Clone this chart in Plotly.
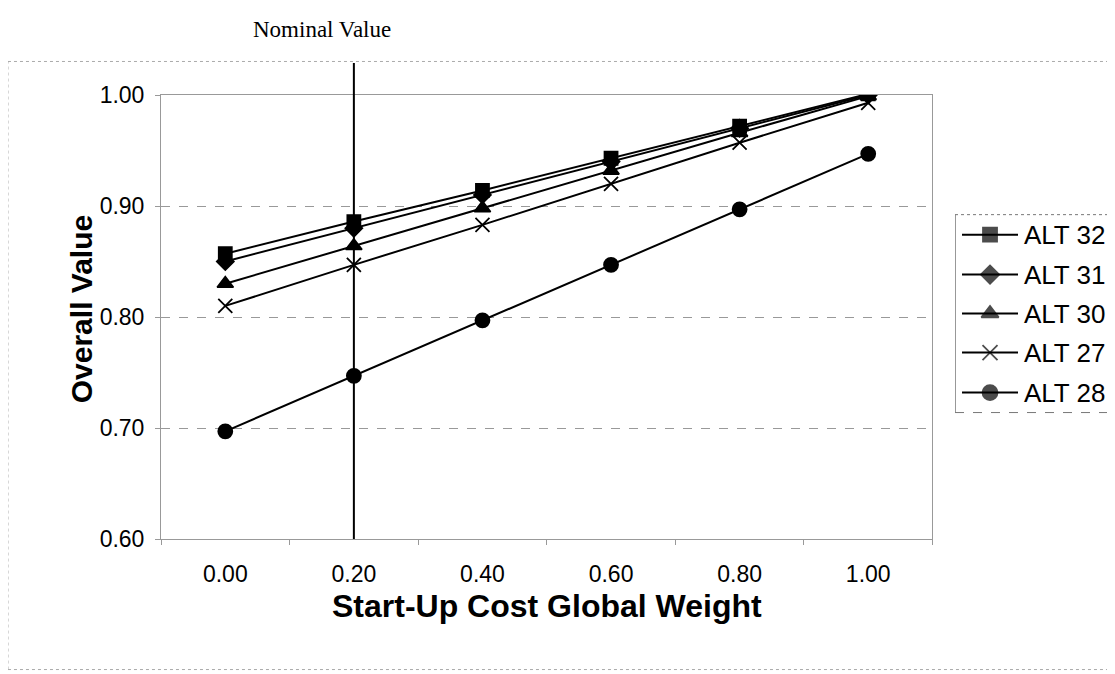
import plotly.graph_objects as go

weights = [0.0, 0.2, 0.4, 0.6, 0.8, 1.0]
x_tick_labels = ["0.00", "0.20", "0.40", "0.60", "0.80", "1.00"]
alt32 = [0.857, 0.886, 0.914, 0.943, 0.972, 1.001]
alt31 = [0.850, 0.880, 0.910, 0.940, 0.970, 1.000]
alt30 = [0.830, 0.864, 0.898, 0.932, 0.966, 0.999]
alt27 = [0.810, 0.847, 0.883, 0.920, 0.957, 0.993]
alt28 = [0.697, 0.747, 0.797, 0.847, 0.897, 0.947]
series_names = ["ALT 32", "ALT 31", "ALT 30", "ALT 27", "ALT 28"]
y_ticks = [0.60, 0.70, 0.80, 0.90, 1.00]
nominal_weight = 0.2

series = [alt32, alt31, alt30, alt27, alt28]
symbols = ["square", "diamond", "triangle-up", "x-thin-open", "circle"]
sizes = [13, 13, 14, 14, 14]

X_RANGE = [-0.1, 1.1]
X_DOMAIN = [0.0, 0.8087]

fig = go.Figure()
for name, vals, sym, sz in zip(series_names, series, symbols, sizes):
    fig.add_trace(go.Scatter(
        x=weights, y=vals, mode="lines+markers", name=name,
        line=dict(color="black", width=2),
        marker=dict(symbol=sym, size=sz, color="black",
                    line=dict(color="black", width=1.8)),
        showlegend=False, xaxis="x", yaxis="y",
    ))

# ---- custom legend drawn on a hidden pixel-unit subplot ----
leg_y = [235, 275, 314, 353, 393]
for name, sym, sz, ly in zip(series_names, symbols, sizes, leg_y):
    fig.add_trace(go.Scatter(
        x=[962, 990, 1018], y=[ly, ly, ly], mode="lines+markers",
        line=dict(color="black", width=2),
        marker=dict(symbol=sym, size=[0, sz + 1, 0], color="black",
                    line=dict(color="black", width=1.8)),
        showlegend=False, hoverinfo="skip", xaxis="x2", yaxis="y2",
    ))
    fig.add_annotation(text=name, x=1022, y=ly, xref="x2", yref="y2",
                       xanchor="left", yanchor="middle", showarrow=False,
                       font=dict(family="Liberation Sans", size=26, color="black"))
# legend frame
fig.add_shape(type="line", xref="x2", yref="y2", x0=955, x1=955, y0=215, y1=413,
              line=dict(color="#333333", width=1))
fig.add_shape(type="line", xref="x2", yref="y2", x0=955, x1=1115, y0=215, y1=215,
              line=dict(color="#777777", width=1, dash="dot"))
fig.add_shape(type="line", xref="x2", yref="y2", x0=955, x1=1115, y0=413, y1=413,
              line=dict(color="#777777", width=1, dash="dash"))

# Nominal value vertical line (extends above plot area)
nom_px = X_DOMAIN[0] + (nominal_weight - X_RANGE[0]) / (X_RANGE[1] - X_RANGE[0]) * (X_DOMAIN[1] - X_DOMAIN[0])
fig.add_shape(type="line", x0=nom_px, x1=nom_px, xref="paper",
              y0=0.0, y1=1.072, yref="paper", line=dict(color="black", width=2))
fig.add_annotation(text="Nominal Value", x=nom_px, xref="paper",
                   y=1.1475, yref="paper", yanchor="middle", xanchor="center",
                   showarrow=False, xshift=-32,
                   font=dict(family="Liberation Serif", size=23, color="black"))

# Axis titles
fig.add_annotation(text="<b>Start-Up Cost Global Weight</b>", x=(X_DOMAIN[0] + X_DOMAIN[1]) / 2,
                   y=-0.152, xref="paper", yref="paper", xanchor="center", yanchor="middle",
                   showarrow=False, font=dict(family="Liberation Sans", size=32, color="black"))
fig.add_annotation(text="<b>Overall Value</b>", x=-0.083, y=0.517, xref="paper", yref="paper",
                   xanchor="center", yanchor="middle", textangle=-90, showarrow=False,
                   font=dict(family="Liberation Sans", size=30, color="black"))

# Outer chart border (light dotted): top, left, bottom
border_style = dict(color="#aaaaaa", width=1, dash="dot")
fig.add_shape(type="line", xref="paper", yref="paper", x0=-0.1604, x1=0.9969,
              y0=1.0755, y1=1.0755, line=border_style, layer="below")
fig.add_shape(type="line", xref="paper", yref="paper", x0=-0.1604, x1=-0.1604,
              y0=-0.294, y1=1.0755, line=border_style, layer="below")
fig.add_shape(type="line", xref="paper", yref="paper", x0=-0.1604, x1=0.9969,
              y0=-0.294, y1=-0.294, line=border_style, layer="below")

fig.update_layout(
    width=1107, height=666,
    margin=dict(l=153, r=0, t=87, b=135),
    paper_bgcolor="white", plot_bgcolor="white",
    font=dict(family="Liberation Sans", color="black"),
    showlegend=False,
    xaxis=dict(domain=X_DOMAIN, range=X_RANGE, tickvals=weights, ticktext=x_tick_labels,
               showgrid=False, zeroline=False, showline=True,
               linecolor="#999999", linewidth=1, mirror=True,
               tickfont=dict(size=23), ticks="", ticklabelstandoff=14,
               minor=dict(tick0=X_RANGE[0], dtick=0.2, ticks="outside", ticklen=5,
                          tickcolor="#999999", showgrid=False)),
    yaxis=dict(range=[0.6, 1.0], tickvals=y_ticks,
               ticktext=["%.2f" % v for v in y_ticks],
               showgrid=True, gridcolor="#999999", griddash="dash", gridwidth=1,
               zeroline=False, showline=True, linecolor="#999999", linewidth=1,
               mirror=True, ticks="outside", ticklen=5, tickcolor="#999999",
               tickfont=dict(size=23), ticklabelstandoff=6),
    xaxis2=dict(domain=[0.8323, 1.0], range=[955, 1115], anchor="y2", visible=False,
                fixedrange=True),
    yaxis2=dict(domain=[0.0, 1.0], range=[539.5, 95.3], anchor="x2", visible=False,
                fixedrange=True),
)

fig.write_html("out.html")
